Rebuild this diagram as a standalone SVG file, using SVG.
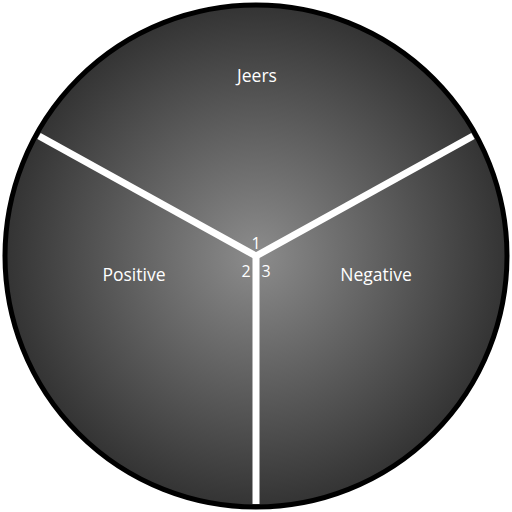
<svg xmlns="http://www.w3.org/2000/svg" width="512" height="512" viewBox="0 0 512 512">
<defs>
<radialGradient id="bg" cx="256" cy="256" r="252" gradientUnits="userSpaceOnUse">
<stop offset="0" stop-color="#8c8c8c"/>
<stop offset="1" stop-color="#333333"/>
</radialGradient>
<style>
.lbl{font-family:"Open Sans","Noto Sans",sans-serif;fill:#fff;text-anchor:middle}
.big{font-size:17.5px}
.num{font-size:16px}
.sep{stroke:#fff;stroke-width:7;fill:none}
</style>
</defs>
<circle cx="256" cy="256" r="251" fill="url(#bg)" stroke="#000" stroke-width="5"/>
<g id="connectors">
<line class="sep" x1="256" y1="256" x2="39" y2="136"/>
<line class="sep" x1="256" y1="256" x2="473" y2="136"/>
<line class="sep" x1="256" y1="252" x2="256" y2="504"/>
</g>
<g id="jeers"><text class="lbl big" x="257" y="82">Jeers</text></g>
<g id="positive"><text class="lbl big" x="134" y="281">Positive</text></g>
<g id="negative"><text class="lbl big" x="376" y="281">Negative</text></g>
<g id="n1"><text class="lbl num" x="256" y="249">1</text></g>
<g id="n2"><text class="lbl num" x="246" y="277">2</text></g>
<g id="n3"><text class="lbl num" x="266" y="277">3</text></g>
</svg>
